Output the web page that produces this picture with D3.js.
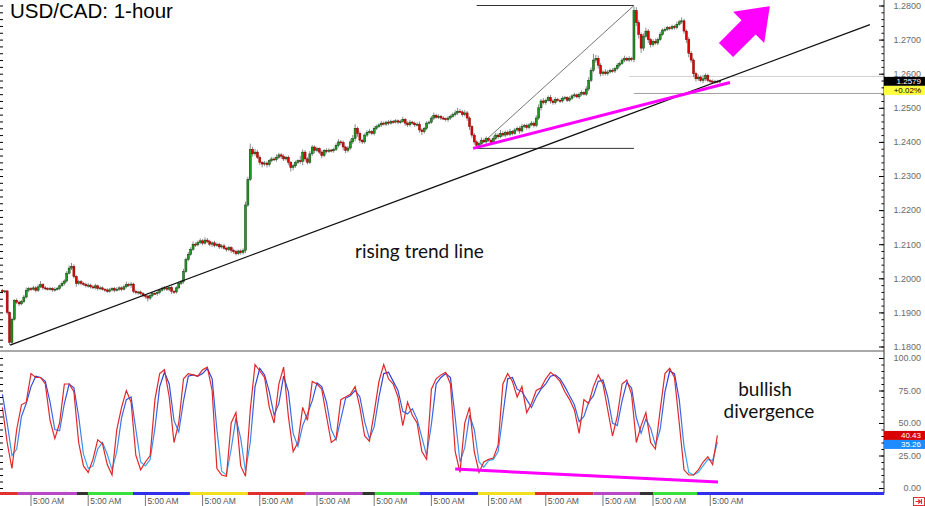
<!DOCTYPE html>
<html>
<head>
<meta charset="utf-8">
<script src="https://cdn.jsdelivr.net/npm/d3@7"></script>
<style>
  body { margin: 0; background: #fff; }
  svg { display: block; }
</style>
</head>
<body>
<svg id="chart" width="925" height="506"></svg>
<script>
// Price data, hourly candles, in pips above 1.1800
const basePrice = 1.18;
const firstOpenPip = 165;
const closePips = [
  161,163,100,12,80,135,130,125,132,145,
  165,170,168,172,165,175,182,172,170,168,
  170,166,168,170,178,185,192,215,230,235,
  205,185,190,185,182,178,180,175,172,178,
  170,172,168,166,162,166,170,165,168,172,
  168,175,182,180,183,162,158,160,155,150,
  148,142,150,156,155,158,165,170,172,168,
  173,162,160,172,185,190,220,255,270,285,
  300,298,305,310,303,312,308,300,304,296,
  300,292,295,288,284,290,282,278,272,280,
  275,282,415,490,578,565,570,555,540,535,
  538,533,545,550,548,555,562,558,550,555,
  540,525,530,540,545,542,570,550,540,565,
  585,575,580,570,560,575,572,576,574,578,
  590,600,598,585,575,582,600,610,640,625,
  605,600,620,628,630,625,640,645,650,655,
  652,658,655,660,658,662,658,660,666,655,
  650,658,655,650,652,635,630,640,655,658,
  670,678,672,675,670,668,665,670,675,680,
  685,690,688,680,685,670,645,620,600,590,
  595,605,600,610,605,598,610,620,615,625,
  620,628,622,630,625,635,640,632,645,648,
  642,650,655,648,670,700,720,715,722,730,
  720,715,725,722,720,728,730,722,728,735,
  738,732,740,745,740,755,780,810,840,845,
  825,800,805,800,805,810,808,815,825,830,
  840,845,840,845,842,985,950,915,875,910,
  925,900,885,895,890,900,915,928,930,935,
  932,938,935,945,952,955,925,900,860,840,
  800,785,790,780,785,795,780,778,775,778,
  776,779
];
// wick lengths above / below the body, pips
const wickUp = [
  4,3,2,3,5,4,6,5,4,6,8,5,4,6,5,7,10,4,5,4,
  5,4,6,5,4,6,5,6,8,10,6,4,6,5,4,5,6,4,5,6,
  4,5,4,3,5,6,4,5,6,5,4,6,8,5,6,4,5,3,4,5,
  4,3,5,4,6,5,4,6,5,4,3,5,4,5,6,5,8,6,7,6,
  8,5,6,7,5,8,6,5,4,6,5,4,5,6,4,5,4,5,6,4,
  5,6,10,8,17,8,10,6,5,4,6,5,4,6,5,8,6,5,6,4,
  5,4,6,5,4,14,8,6,5,8,6,5,6,4,5,4,6,5,4,5,
  6,8,5,6,4,6,8,10,12,5,6,4,5,6,8,5,6,5,4,6,
  5,4,6,5,4,5,4,5,8,4,5,6,4,5,6,8,5,4,6,5,
  6,8,5,6,4,5,4,6,5,6,8,10,6,5,8,6,5,4,6,5,
  6,8,5,6,4,5,8,6,5,10,6,5,6,8,5,6,5,6,8,5,
  6,5,6,5,8,10,6,8,5,6,8,5,6,4,5,6,5,4,6,5,
  6,4,5,6,4,8,10,8,18,10,8,6,5,8,6,5,6,5,6,5,
  6,8,5,6,4,12,10,8,6,8,10,6,5,6,8,6,8,5,6,5,
  4,6,5,8,6,10,6,5,8,6,5,6,8,5,12,6,5,4,5,4,
  4,3
];
const wickDn = [
  5,4,6,8,6,4,5,6,4,5,4,6,5,4,6,5,4,6,5,4,
  4,6,5,4,5,4,6,5,4,6,6,10,5,6,4,5,6,5,4,5,
  6,5,4,6,5,4,5,6,4,5,6,4,5,6,8,6,5,6,5,6,
  8,10,6,5,4,6,5,4,6,5,6,8,6,5,4,5,6,4,5,4,
  5,6,4,5,6,4,5,6,8,5,4,6,5,4,6,5,8,6,5,4,
  6,5,8,6,5,8,6,5,8,10,6,8,6,5,4,6,5,8,6,5,
  8,12,8,6,5,6,10,8,6,5,6,8,5,6,8,5,6,4,5,6,
  5,6,8,10,8,6,5,6,8,10,8,6,5,6,4,5,6,5,4,6,
  4,5,6,4,5,4,6,5,4,8,6,5,4,6,5,8,10,6,5,4,
  5,6,4,5,6,4,5,6,5,4,5,6,4,6,5,8,10,8,8,6,
  5,6,4,8,5,6,4,5,6,4,5,6,4,5,6,4,5,8,4,5,
  6,5,4,6,5,6,8,5,6,4,8,6,5,4,6,5,6,5,4,5,
  5,4,6,5,4,5,6,5,6,8,10,8,6,5,6,4,5,6,5,6,
  5,6,4,5,6,8,10,12,14,8,6,10,8,6,5,6,5,4,6,5,
  5,4,6,5,4,6,8,10,12,8,10,8,6,5,8,6,5,6,4,5,
  4,5
];

// Stochastic, sampled every 2 candles
const stochK = [
  62,35,15,45,64,66,88,85,85,80,52,38,50,80,80,74,35,17,12,22,
  37,34,18,10,45,62,75,66,25,14,20,25,68,88,91,70,35,50,84,88,
  87,86,91,93,75,15,10,9,50,58,17,9,60,95,90,85,62,50,80,93,
  55,28,35,62,52,82,80,76,55,35,38,68,70,72,78,62,40,36,58,82,
  95,84,80,70,48,66,56,50,28,22,76,84,87,89,80,28,12,50,62,28,
  12,20,22,23,33,80,88,82,70,78,58,65,75,77,84,89,86,82,74,68,
  60,42,68,65,78,87,80,60,40,55,80,83,72,35,48,58,35,30,60,88,
  92,85,50,14,10,10,14,20,24,18,40.43
];
const stochD = [
  72,50,25,30,55,65,78,86,85,82,66,45,44,65,80,77,55,26,15,17,
  30,35,26,14,28,54,68,70,45,20,17,22,46,78,89,80,52,43,67,86,
  87,86,88,92,84,45,13,10,30,54,38,13,35,78,92,87,74,56,65,86,
  74,42,32,48,57,67,81,78,66,45,37,53,69,71,75,70,51,38,47,70,
  88,89,82,75,59,57,61,53,39,25,49,80,85,88,85,54,20,31,56,45,
  20,16,21,22,28,56,84,85,76,74,68,62,70,76,80,86,87,84,78,71,
  64,51,55,66,71,82,83,70,50,48,67,81,77,54,42,53,46,33,45,74,
  90,88,68,32,12,10,12,17,22,21,35.26
];

// Axis ticks and labels
const priceTicks = [1.18, 1.19, 1.20, 1.21, 1.22, 1.23, 1.24, 1.25, 1.26, 1.27, 1.28];
const stochTicks = [0, 25, 50, 75, 100];
const timeTickIdx = [12, 36, 60, 84, 108, 132, 156, 180, 204, 228, 252, 273, 297];
const timeLabel = '5:00 AM';
const dayEnds = [6.5, 31.3, 35.9, 54.8, 78.7, 103, 127, 151, 156.3, 175, 199.6, 223.5, 248, 267.5, 273, 291.5, 370];
const dayColors = ['#e03030', '#b848c8', '#333333', '#3ce03c', '#3030e8', '#f0e020', '#e03030', '#b848c8', '#333333',
  '#3ce03c', '#3030e8', '#f0e020', '#e03030', '#b848c8', '#333333', '#3ce03c', '#3030e8'];
const changeText = '+0.02%';

// Drawn lines, [candle index, price]
const trendLine = [[3.2, 1.1804], [364, 1.2744]];
const supportLine = [[197.5, 1.2381], [305.3, 1.2574]];
const swingLow = [199, 1.2381];
const swingHigh = [265, 1.2800];
const levelLines = [[263, 1.2592, '#d0d0d0'], [265, 1.2542, '#a0a0a0']];
const divergenceLine = [[190, 14.6], [300.3, 4.6]];

const svg = d3.select('#chart');
const axisX = 884;

const x = d3.scaleLinear().domain([0, 370]).range([2.4, 884.2]);
const yP = d3.scaleLinear().domain([1.18, 1.28]).range([346.5, 5.5]);
const yS = d3.scaleLinear().domain([0, 100]).range([488, 358]);

const defs = svg.append('defs');
const grad = defs.append('linearGradient')
  .attr('id', 'dGrad')
  .attr('gradientUnits', 'userSpaceOnUse')
  .attr('x1', 0).attr('x2', 0)
  .attr('y1', yS(100)).attr('y2', yS(0));
grad.append('stop').attr('offset', '0%').attr('stop-color', '#2a2ad0');
grad.append('stop').attr('offset', '55%').attr('stop-color', '#3a7cf0');
grad.append('stop').attr('offset', '100%').attr('stop-color', '#38c8ff');

// candles
const candles = closePips.map((c, i) => {
  const o = i ? closePips[i - 1] : firstOpenPip;
  return {
    i: i,
    o: basePrice + o / 1e4,
    c: basePrice + c / 1e4,
    h: basePrice + (Math.max(o, c) + wickUp[i]) / 1e4,
    l: basePrice + (Math.min(o, c) - wickDn[i]) / 1e4
  };
});

// fib style lines
const fib = svg.append('g');
[swingHigh[1], swingLow[1]].forEach((p) => {
  fib.append('line')
    .attr('x1', x(swingLow[0])).attr('x2', x(swingHigh[0]))
    .attr('y1', yP(p)).attr('y2', yP(p))
    .attr('stroke', '#333').attr('stroke-width', 1);
});
fib.append('line')
  .attr('x1', x(swingLow[0])).attr('y1', yP(swingLow[1]))
  .attr('x2', x(swingHigh[0])).attr('y2', yP(swingHigh[1]))
  .attr('stroke', '#777').attr('stroke-width', 1);

levelLines.forEach((l) => {
  svg.append('line')
    .attr('x1', x(l[0])).attr('x2', axisX)
    .attr('y1', yP(l[1])).attr('y2', yP(l[1]))
    .attr('stroke', l[2]).attr('stroke-width', 1);
});

const cg = svg.append('g');
cg.selectAll('.wick')
  .data(candles)
  .enter()
  .append('line')
  .attr('class', 'wick')
  .attr('x1', (d) => x(d.i)).attr('x2', (d) => x(d.i))
  .attr('y1', (d) => yP(d.h)).attr('y2', (d) => yP(d.l))
  .attr('stroke', '#8c8c8c')
  .attr('stroke-width', 1);

cg.selectAll('.body')
  .data(candles)
  .enter()
  .append('rect')
  .attr('class', 'body')
  .attr('x', (d) => x(d.i) - 1)
  .attr('y', (d) => yP(Math.max(d.o, d.c)))
  .attr('width', 2)
  .attr('height', (d) => Math.max(1, Math.abs(yP(d.o) - yP(d.c))))
  .attr('fill', (d) => (d.c >= d.o ? '#1f9a1f' : '#e00000'))
  .attr('stroke', (d) => (d.c >= d.o ? '#103a10' : '#8a0000'))
  .attr('stroke-width', 0.5);

// trend line and support line
const lineP = d3.line().x((d) => x(d[0])).y((d) => yP(d[1]));
svg.append('path')
  .attr('d', lineP(trendLine))
  .attr('fill', 'none')
  .attr('stroke', '#111')
  .attr('stroke-width', 1.2);
svg.append('path')
  .attr('d', lineP(supportLine))
  .attr('fill', 'none')
  .attr('stroke', '#ff00ff')
  .attr('stroke-width', 3);

// big arrow
svg.append('path')
  .attr('d', 'M0,-10 L32,-10 L32,-22 L62,0 L32,22 L32,10 L0,10 Z')
  .attr('transform', 'translate(726,50) rotate(-45)')
  .attr('fill', '#ff00ff');

// panel separator
svg.append('line')
  .attr('x1', 0).attr('x2', axisX)
  .attr('y1', 351).attr('y2', 351)
  .attr('stroke', '#555').attr('stroke-width', 1.2);

// stochastic lines
const lineS = d3.line().x((d, j) => x(2 * j)).y((d) => yS(d));
svg.append('path')
  .attr('d', lineS(stochD))
  .attr('fill', 'none')
  .attr('stroke', 'url(#dGrad)')
  .attr('stroke-width', 1.2);
svg.append('path')
  .attr('d', lineS(stochK))
  .attr('fill', 'none')
  .attr('stroke', '#e02828')
  .attr('stroke-width', 1.2);

svg.append('path')
  .attr('d', d3.line().x((d) => x(d[0])).y((d) => yS(d[1]))(divergenceLine))
  .attr('fill', 'none')
  .attr('stroke', '#ff00ff')
  .attr('stroke-width', 3);

// right axes
const axisFont = (g) => g.selectAll('text')
  .attr('text-anchor', 'end')
  .attr('fill', '#6a6a6a')
  .attr('font-family', 'Liberation Sans, Arial, sans-serif')
  .attr('font-size', '9px');

svg.append('g')
  .attr('transform', `translate(${axisX},0)`)
  .call(d3.axisRight(yP).tickValues(d3.range(1.18, 1.2801, 0.002)).tickSize(-2.5).tickFormat(''))
  .call((g) => g.select('.domain').remove());
svg.append('g')
  .attr('transform', `translate(${axisX},0)`)
  .call(d3.axisRight(yP).tickValues(priceTicks).tickSize(-5).tickPadding(37).tickFormat(d3.format('.4f')))
  .call((g) => g.select('.domain').remove())
  .call(axisFont);

svg.append('g')
  .attr('transform', `translate(${axisX},0)`)
  .call(d3.axisRight(yS).tickValues(d3.range(0, 101, 5)).tickSize(-2.5).tickFormat(''))
  .call((g) => g.select('.domain').remove());
svg.append('g')
  .attr('transform', `translate(${axisX},0)`)
  .call(d3.axisRight(yS).tickValues(stochTicks).tickSize(-5).tickPadding(37).tickFormat(d3.format('.2f')))
  .call((g) => g.select('.domain').remove())
  .call(axisFont);

// small ticks on the left edge
svg.append('g')
  .call(d3.axisRight(yP).tickValues(d3.range(1.18, 1.2801, 0.002)).tickSize(3).tickFormat(''))
  .call((g) => g.select('.domain').remove());
svg.append('g')
  .call(d3.axisRight(yS).tickValues(d3.range(0, 101, 5)).tickSize(3).tickFormat(''))
  .call((g) => g.select('.domain').remove());

svg.append('line')
  .attr('x1', axisX).attr('x2', axisX)
  .attr('y1', 0).attr('y2', 493)
  .attr('stroke', '#333').attr('stroke-width', 1);

// day colour bar
svg.selectAll('.day')
  .data(dayEnds)
  .enter()
  .append('rect')
  .attr('class', 'day')
  .attr('x', (d, i) => (i ? x(dayEnds[i - 1]) : 0))
  .attr('y', 492)
  .attr('width', (d, i) => x(d) - (i ? x(dayEnds[i - 1]) : 0))
  .attr('height', 3)
  .attr('fill', (d, i) => dayColors[i]);

// time labels
const tg = svg.append('g');
timeTickIdx.forEach((t) => {
  tg.append('line')
    .attr('x1', x(t)).attr('x2', x(t))
    .attr('y1', 495).attr('y2', 506)
    .attr('stroke', '#777');
  tg.append('text')
    .attr('x', x(t) + 2)
    .attr('y', 504)
    .attr('fill', '#555')
    .attr('font-family', 'Liberation Sans, Arial, sans-serif')
    .attr('font-size', '8.5px')
    .text(timeLabel);
});

// value boxes on the right axis
function valueBox(yc, fill, textFill, label) {
  svg.append('rect')
    .attr('x', axisX).attr('y', yc - 4.5)
    .attr('width', 925 - axisX).attr('height', 9)
    .attr('fill', fill);
  svg.append('text')
    .attr('x', 921).attr('y', yc + 2.8)
    .attr('text-anchor', 'end')
    .attr('fill', textFill)
    .attr('font-family', 'Liberation Sans, Arial, sans-serif')
    .attr('font-size', '8px')
    .text(label);
}
const lastClose = candles[candles.length - 1].c;
const boxY = yP(lastClose) + 0.5;
valueBox(boxY, '#000', '#fff', lastClose.toFixed(4));
valueBox(boxY + 9, '#ffff40', '#000', changeText);
const lastK = stochK[stochK.length - 1];
const lastD = stochD[stochD.length - 1];
valueBox(yS(lastK), '#d80000', '#fff', lastK.toFixed(2));
valueBox(yS(lastK) + 9, '#1e8cff', '#fff', lastD.toFixed(2));

// little scroll icon
svg.append('rect')
  .attr('x', 913.5).attr('y', 497.5)
  .attr('width', 11).attr('height', 8)
  .attr('fill', '#fff')
  .attr('stroke', '#e03030');
svg.append('path')
  .attr('d', 'M915.5,501.5 L920,501.5 M918,499.5 L920.5,501.5 L918,503.5 M921.5,499 L921.5,504')
  .attr('fill', 'none')
  .attr('stroke', '#e03030')
  .attr('stroke-width', 1.2);

// texts
svg.append('text')
  .attr('x', 10).attr('y', 17.5)
  .attr('font-family', 'Liberation Sans, Arial, sans-serif')
  .attr('font-size', '20.5px')
  .attr('fill', '#000')
  .text('USD/CAD: 1-hour');

const note = (tx, ty, s, anchor) => svg.append('text')
  .attr('x', tx).attr('y', ty)
  .attr('text-anchor', anchor)
  .attr('font-family', 'Lato, sans-serif')
  .attr('font-size', '19px')
  .attr('fill', '#111')
  .text(s);
note(355, 258, 'rising trend line', 'start');
note(765, 396, 'bullish', 'middle');
note(769, 418, 'divergence', 'middle');
</script>
</body>
</html>
